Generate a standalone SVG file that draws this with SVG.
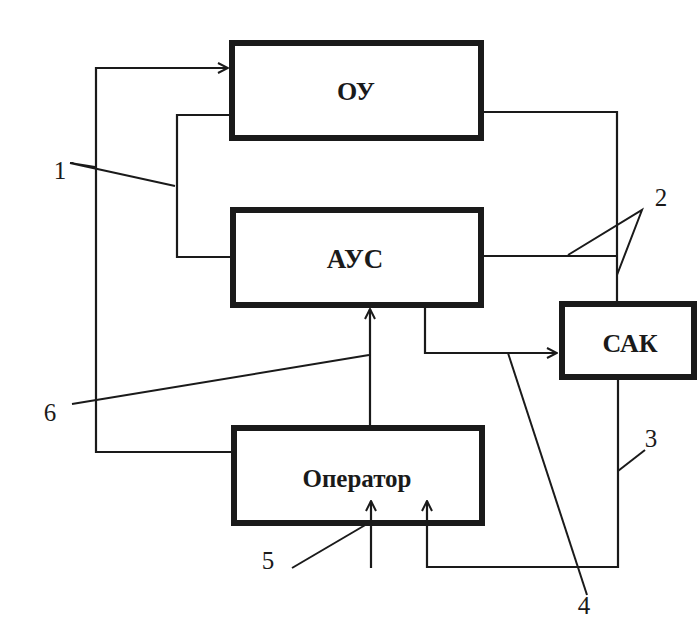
<svg xmlns="http://www.w3.org/2000/svg" width="697" height="621" viewBox="0 0 697 621">
<style>
.box{fill:none;stroke:#1a1a1a;stroke-width:6}
.ln{fill:none;stroke:#1a1a1a;stroke-width:2.2;stroke-linejoin:miter}
.lead{fill:none;stroke:#1a1a1a;stroke-width:2}
.lbl{font-family:"Liberation Serif",serif;font-weight:bold;fill:#1a1a1a;text-anchor:middle}
.num{font-family:"Liberation Serif",serif;fill:#1a1a1a;text-anchor:middle;font-size:25px}
</style>
<defs>
<marker id="arr" viewBox="0 0 12 12" refX="11" refY="6" markerWidth="12" markerHeight="12" markerUnits="userSpaceOnUse" orient="auto">
<polyline points="1,1 11,6 1,11" fill="none" stroke="#1a1a1a" stroke-width="2"/>
</marker>
</defs>
<rect width="697" height="621" fill="#ffffff"/>
<g id="connectors">
<polyline class="ln" points="232,452 96,452 96,68 228,68" marker-end="url(#arr)"/>
<polyline class="ln" points="230,115 177,115 177,257 232,257"/>
<polyline class="ln" points="482,112 617,112 617,302"/>
<polyline class="ln" points="482,256 617,256"/>
<polyline class="ln" points="370,425 370,309" marker-end="url(#arr)"/>
<polyline class="ln" points="425,307 425,353 557,353" marker-end="url(#arr)"/>
<polyline class="ln" points="618,378 618,567 427,567 427,501" marker-end="url(#arr)"/>
<polyline class="ln" points="371,568 371,501" marker-end="url(#arr)"/>
</g>
<g id="node-OU">
<rect class="box" x="232" y="43" width="249" height="95"/>
<text class="lbl" x="356" y="100" font-size="26">ОУ</text>
</g>
<g id="node-AUS">
<rect class="box" x="233" y="210" width="248" height="95"/>
<text class="lbl" x="355" y="268" font-size="27">АУС</text>
</g>
<g id="node-SAK">
<rect class="box" x="562" y="304" width="132" height="73"/>
<text class="lbl" x="630" y="352" font-size="26">САК</text>
</g>
<g id="node-Operator">
<rect class="box" x="234" y="428" width="248" height="95"/>
<text class="lbl" x="357" y="487" font-size="25">Оператор</text>
</g>
<g id="labels">
<text class="num" x="60" y="179">1</text>
<polyline class="lead" points="95,167 70,163 175,186"/>
<text class="num" x="661" y="206">2</text>
<polyline class="lead" points="568,255 642,210 617,275"/>
<text class="num" x="651" y="447">3</text>
<line class="lead" x1="645" y1="450" x2="618" y2="471"/>
<text class="num" x="584" y="614" font-size="23">4</text>
<line class="lead" x1="508" y1="353" x2="587" y2="595"/>
<text class="num" x="268" y="569">5</text>
<line class="lead" x1="292" y1="568" x2="367" y2="524"/>
<text class="num" x="50" y="421">6</text>
<line class="lead" x1="72" y1="404" x2="369" y2="355"/>
</g>
</svg>
